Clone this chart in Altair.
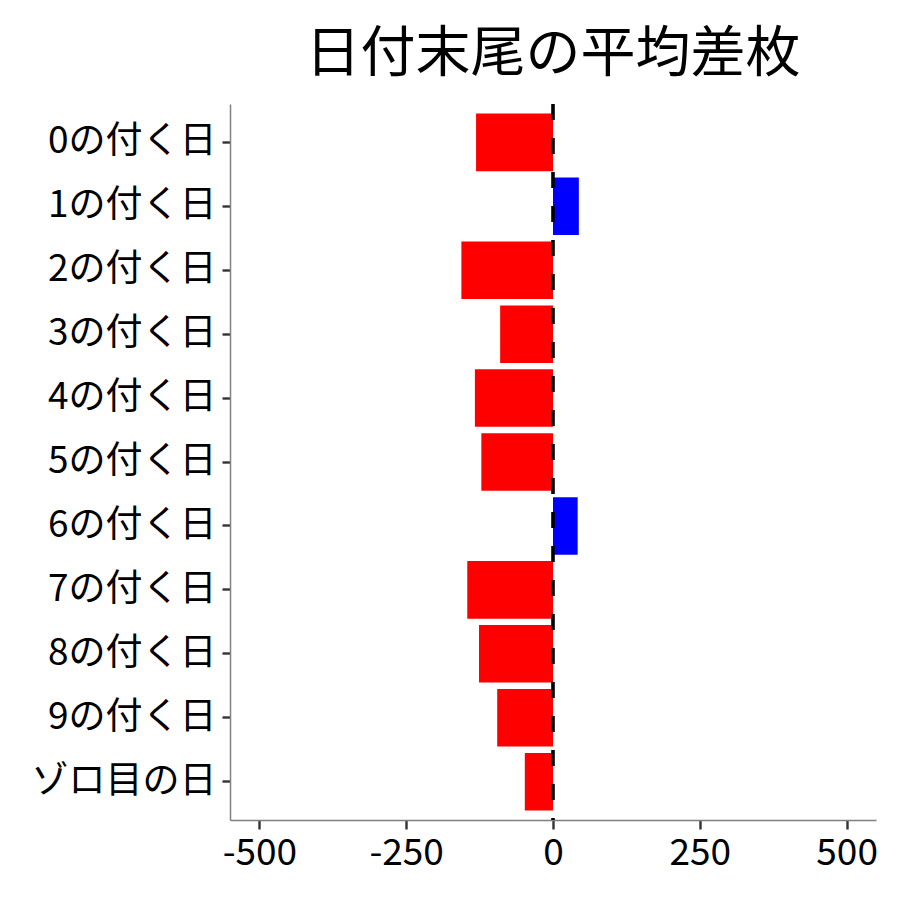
import altair as alt
import pandas as pd

categories = ["0の付く日", "1の付く日", "2の付く日", "3の付く日", "4の付く日",
              "5の付く日", "6の付く日", "7の付く日", "8の付く日", "9の付く日", "ゾロ目の日"]
values = [-131, 44, -156, -90, -133, -122, 42, -146, -126, -95, -48]
colors = ["#FF0000" if v < 0 else "#0000FF" for v in values]
x_ticks = [-500, -250, 0, 250, 500]

df = pd.DataFrame({"cat": categories, "val": values, "col": colors})

FONT = "Noto Sans CJK JP"

xscale = alt.Scale(domain=[-550, 550], nice=False, zero=False)
yscale = alt.Scale(domain=categories, paddingInner=0.1, paddingOuter=0.15)

bars = alt.Chart(df).mark_bar().encode(
    x=alt.X("val:Q", scale=xscale,
            axis=alt.Axis(values=x_ticks, title=None, grid=False, labelFontSize=37,
                          labelFont=FONT, labelColor="black", domainColor="#808080",
                          domainWidth=1.5, tickColor="#333333", tickWidth=2.4,
                          tickSize=9, labelPadding=6, labelExpr="'' + datum.value")),
    y=alt.Y("cat:N", scale=yscale, sort=categories,
            axis=alt.Axis(title=None, grid=False, labelFontSize=37, labelFont=FONT,
                          labelColor="black", domainColor="#808080", domainWidth=1.5,
                          tickColor="#333333", tickWidth=2.4, tickSize=8, labelPadding=6,
                          labelLimit=400)),
    color=alt.Color("col:N", scale=None),
)

zero = alt.Chart(pd.DataFrame({"z": [0]})).mark_rule(
    color="black", strokeWidth=3.6, strokeDash=[16, 18]
).encode(x=alt.X("z:Q", scale=xscale))

chart = alt.layer(bars, zero).properties(
    width=646, height=716,
    title=alt.TitleParams("日付末尾の平均差枚", fontSize=55, font=FONT, fontWeight="normal",
                          color="black", anchor="middle", offset=19),
    padding={"left": 23, "top": 19, "right": 10, "bottom": 10},
).configure_view(stroke=None).configure_axis(labelFontWeight="normal")

chart.save("out.html", embed_options={"renderer": "svg", "actions": False})
